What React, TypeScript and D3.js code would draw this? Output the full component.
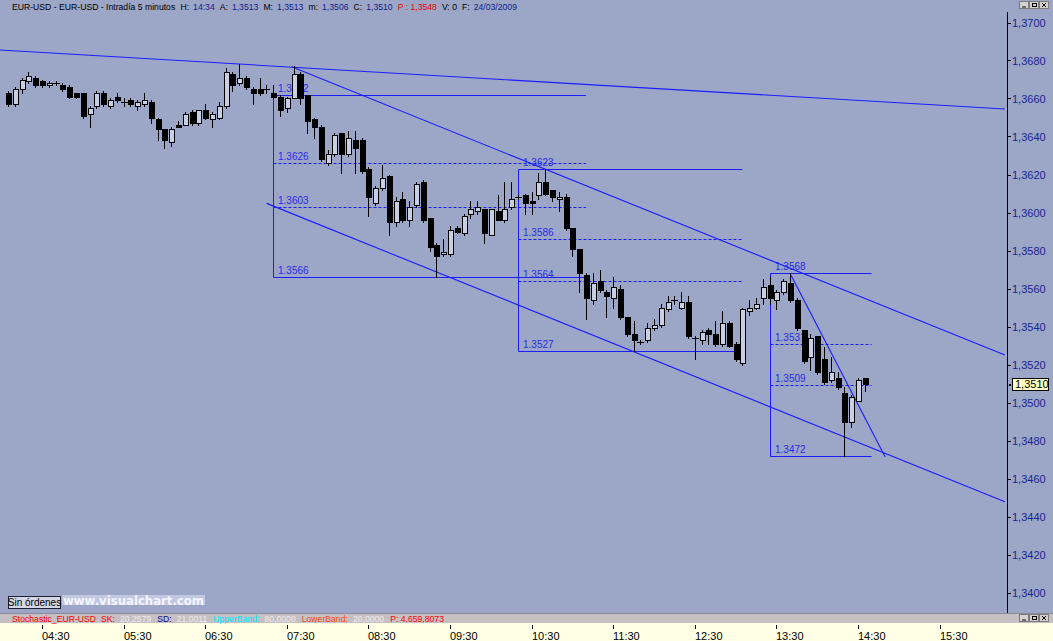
import React, { useLayoutEffect, useRef, useState } from "react";
import * as d3 from "d3";

// ---- data (EUR-USD, 5-minute bars, first bar 04:05, last bar 14:35) ----
const opens = [
  1.3663, 1.3657, 1.3665, 1.3669, 1.3671, 1.3669, 1.3667, 1.3668, 1.3667, 1.3666,
  1.3663, 1.3663, 1.3652, 1.3656, 1.3663, 1.3656, 1.3661, 1.3658, 1.3659, 1.3656,
  1.3657, 1.3658, 1.3649, 1.3644, 1.3637, 1.3646, 1.3646, 1.3653, 1.3647, 1.3654,
  1.3649, 1.3650, 1.3656, 1.3673, 1.3668, 1.3671, 1.3665, 1.3665, 1.3665, 1.3663,
  1.3661, 1.3655, 1.3660, 1.3673, 1.3662, 1.3649, 1.3645, 1.3626, 1.3631, 1.3642,
  1.3631, 1.3638, 1.3638, 1.3623, 1.3605, 1.3613, 1.3619, 1.3595, 1.3607, 1.3596,
  1.3604, 1.3616, 1.3597, 1.3583, 1.3578, 1.3578, 1.3592, 1.3589, 1.3599, 1.3601,
  1.3602, 1.3588, 1.3601, 1.3596, 1.3603, 1.3608, 1.3609, 1.3606, 1.3609, 1.3616,
  1.3612, 1.3607, 1.3608, 1.3592, 1.3581, 1.3567, 1.3554, 1.3564, 1.3558, 1.3555,
  1.3560, 1.3545, 1.3536, 1.3532, 1.3533, 1.3539, 1.3541, 1.3549, 1.3554, 1.3550,
  1.3553, 1.3534, 1.3533, 1.3538, 1.3536, 1.3531, 1.3542, 1.3531, 1.3521, 1.3548,
  1.3550, 1.3555, 1.3562, 1.3554, 1.3558, 1.3563, 1.3554, 1.3538, 1.3524, 1.3535,
  1.3523, 1.3512, 1.3513, 1.3505, 1.3490, 1.3501, 1.3513,
];
const highs = [
  1.3664, 1.3666, 1.3671, 1.3674, 1.3672, 1.3670, 1.3669, 1.3669, 1.3668, 1.3667,
  1.3663, 1.3663, 1.3656, 1.3664, 1.3664, 1.3660, 1.3663, 1.3660, 1.3660, 1.3659,
  1.3663, 1.3659, 1.3650, 1.3644, 1.3645, 1.3648, 1.3653, 1.3654, 1.3654, 1.3657,
  1.3653, 1.3658, 1.3676, 1.3674, 1.3678, 1.3672, 1.3666, 1.3671, 1.3667, 1.3667,
  1.3662, 1.3661, 1.3677, 1.3674, 1.3662, 1.3650, 1.3646, 1.3633, 1.3642, 1.3642,
  1.3643, 1.3643, 1.3639, 1.3624, 1.3614, 1.3625, 1.3620, 1.3608, 1.3611, 1.3606,
  1.3616, 1.3617, 1.3597, 1.3584, 1.3586, 1.3593, 1.3593, 1.3599, 1.3606, 1.3606,
  1.3602, 1.3602, 1.3609, 1.3616, 1.3616, 1.3609, 1.3610, 1.3611, 1.3621, 1.3623,
  1.3612, 1.3611, 1.3610, 1.3592, 1.3581, 1.3568, 1.3568, 1.3570, 1.3559, 1.3566,
  1.3562, 1.3545, 1.3543, 1.3533, 1.3542, 1.3544, 1.3552, 1.3556, 1.3556, 1.3558,
  1.3556, 1.3535, 1.3538, 1.3539, 1.3543, 1.3548, 1.3543, 1.3532, 1.3550, 1.3554,
  1.3555, 1.3565, 1.3566, 1.3559, 1.3565, 1.3568, 1.3555, 1.3538, 1.3536, 1.3535,
  1.3529, 1.3524, 1.3516, 1.3508, 1.3504, 1.3513, 1.3513,
];
const lows = [
  1.3656, 1.3656, 1.3663, 1.3668, 1.3666, 1.3666, 1.3666, 1.3667, 1.3664, 1.3660,
  1.3660, 1.3650, 1.3645, 1.3655, 1.3656, 1.3655, 1.3658, 1.3656, 1.3656, 1.3654,
  1.3656, 1.3647, 1.3638, 1.3634, 1.3635, 1.3645, 1.3646, 1.3646, 1.3646, 1.3649,
  1.3645, 1.3649, 1.3655, 1.3664, 1.3667, 1.3665, 1.3657, 1.3662, 1.3663, 1.3660,
  1.3651, 1.3653, 1.3660, 1.3657, 1.3642, 1.3639, 1.3627, 1.3625, 1.3630, 1.3621,
  1.3630, 1.3621, 1.3621, 1.3598, 1.3604, 1.3612, 1.3588, 1.3593, 1.3595, 1.3593,
  1.3603, 1.3595, 1.3580, 1.3566, 1.3577, 1.3577, 1.3589, 1.3588, 1.3597, 1.3599,
  1.3584, 1.3588, 1.3596, 1.3595, 1.3602, 1.3607, 1.3599, 1.3599, 1.3607, 1.3609,
  1.3606, 1.3601, 1.3591, 1.3577, 1.3558, 1.3544, 1.3552, 1.3558, 1.3545, 1.3550,
  1.3544, 1.3535, 1.3527, 1.3531, 1.3532, 1.3538, 1.3540, 1.3548, 1.3552, 1.3549,
  1.3534, 1.3523, 1.3531, 1.3531, 1.3530, 1.3530, 1.3529, 1.3522, 1.3520, 1.3546,
  1.3549, 1.3552, 1.3552, 1.3549, 1.3557, 1.3553, 1.3538, 1.3521, 1.3517, 1.3515,
  1.3510, 1.3511, 1.3507, 1.3472, 1.3487, 1.3501, 1.3506,
];
const closes = [
  1.3657, 1.3665, 1.3670, 1.3672, 1.3667, 1.3667, 1.3668, 1.3668, 1.3665, 1.3661,
  1.3661, 1.3651, 1.3655, 1.3663, 1.3657, 1.3659, 1.3659, 1.3658, 1.3657, 1.3658,
  1.3659, 1.3650, 1.3644, 1.3638, 1.3644, 1.3645, 1.3652, 1.3647, 1.3654, 1.3650,
  1.3652, 1.3656, 1.3674, 1.3667, 1.3671, 1.3666, 1.3663, 1.3663, 1.3665, 1.3661,
  1.3654, 1.3660, 1.3673, 1.3660, 1.3648, 1.3645, 1.3628, 1.3631, 1.3641, 1.3631,
  1.3639, 1.3634, 1.3622, 1.3608, 1.3613, 1.3618, 1.3595, 1.3606, 1.3596, 1.3603,
  1.3615, 1.3596, 1.3582, 1.3577, 1.3579, 1.3591, 1.3590, 1.3598, 1.3602, 1.3603,
  1.3589, 1.3602, 1.3596, 1.3602, 1.3607, 1.3608, 1.3605, 1.3605, 1.3616, 1.3610,
  1.3608, 1.3608, 1.3592, 1.3581, 1.3568, 1.3555, 1.3563, 1.3559, 1.3556, 1.3561,
  1.3545, 1.3536, 1.3533, 1.3532, 1.3539, 1.3541, 1.3550, 1.3553, 1.3554, 1.3553,
  1.3535, 1.3534, 1.3537, 1.3536, 1.3531, 1.3542, 1.3530, 1.3523, 1.3549, 1.3550,
  1.3552, 1.3561, 1.3555, 1.3558, 1.3564, 1.3554, 1.3539, 1.3522, 1.3534, 1.3516,
  1.3511, 1.3516, 1.3508, 1.3490, 1.3503, 1.3512, 1.3510,
];

const timeTickLabels = ["04:30", "05:30", "06:30", "07:30", "08:30", "09:30", "10:30", "11:30", "12:30", "13:30", "14:30", "15:30"];
const timeTickBars = [5, 17, 29, 41, 53, 65, 77, 89, 101, 113, 125, 137];

const priceTicks = [1.37, 1.368, 1.366, 1.364, 1.362, 1.36, 1.358, 1.356, 1.354, 1.352, 1.35, 1.348, 1.346, 1.344, 1.342, 1.34];

// trend lines: [bar index, price] endpoints
const trendLines = [
  { from: [-1.18, 1.36855], to: [146.6, 1.36545] },
  { from: [41.72, 1.36767], to: [146.6, 1.3525] },
  { from: [38.04, 1.36048], to: [146.6, 1.34478] },
  { from: [115, 1.3568], to: [129, 1.34713] },
];

// Fibonacci retracement boxes
const fibStart = [39, 75, 112];
const fibEnd = [85, 108, 127];
const fibHigh = [1.3662, 1.3623, 1.3568];
const fibLow = [1.3566, 1.3527, 1.3472];
const fibLevels = [[1.3626, 1.3603], [1.3586, 1.3564], [1.3531, 1.3509]];

const lastPrice = 1.351;

// header / indicator text segments: [text, colour, gap before]
const headerSegs: [string, string, number][] = [
  ["EUR-USD - EUR-USD - Intradía 5 minutos", "#000", 0],
  ["H:", "#000", 5],
  ["14:34", "#14208c", 4],
  ["A:", "#000", 5],
  ["1,3513", "#14208c", 4],
  ["M:", "#000", 5],
  ["1,3513", "#14208c", 4],
  ["m:", "#000", 5],
  ["1,3506", "#14208c", 4],
  ["C:", "#000", 5],
  ["1,3510", "#14208c", 4],
  ["P : 1,3548", "#ee0000", 5],
  ["V: 0", "#000", 5],
  ["F:", "#000", 5],
  ["24/03/2009", "#14208c", 4],
];
const stochSegs: [string, string, number][] = [
  ["Stochastic_EUR-USD", "#ff0000", 0],
  ["SK:", "#ff0000", 5],
  ["20,2579", "#ececec", 5],
  ["SD:", "#0a0a8a", 6],
  ["21,0011", "#ececec", 5],
  ["UpperBand:", "#00e8ff", 6],
  ["80,0000", "#ececec", 5],
  ["LowerBand:", "#ff4a1a", 6],
  ["20,0000", "#ececec", 5],
  ["P: 4.659,8073", "#ff0000", 6],
];

const BG = "#9ca6c6";
const BLUE = "#1c1cff";
const LBL = "#2a2ae6";
const WHITE_BODY = "#c9cfe2";
const FONT = "'Liberation Sans', Arial, sans-serif";

// lays out coloured text runs one after another; shrinks the font so the row fits the width
function SegText({ x, y, segs, fontSize, width }: { x: number; y: number; segs: [string, string, number][]; fontSize: number; width: number }) {
  const refs = useRef<(SVGTextElement | null)[]>([]);
  const [layout, setLayout] = useState<{ fs: number; xs: number[] } | null>(null);
  useLayoutEffect(() => {
    const ws = refs.current.map((el) => (el ? el.getComputedTextLength() : 0));
    const gaps = d3.sum(segs, (s) => s[2]);
    const total = d3.sum(ws);
    const k = total > 0 ? Math.min(1, (width - gaps) / total) : 1;
    const extra = total > 0 ? Math.max(0, width - gaps - total * k) / Math.max(1, segs.length - 1) : 0;
    let acc = x;
    const xs: number[] = [];
    ws.forEach((w, i) => {
      if (i > 0) acc += segs[i][2] + extra;
      xs.push(acc);
      acc += w * k;
    });
    setLayout({ fs: fontSize * k, xs });
  }, []);
  return (
    <g>
      {segs.map(([t, c], i) => (
        <text
          key={i}
          ref={(el) => {
            refs.current[i] = el;
          }}
          x={layout ? layout.xs[i] : x}
          y={y}
          fontSize={layout ? layout.fs : fontSize}
          fill={c}
          opacity={layout ? 1 : 0}
        >
          {t}
        </text>
      ))}
    </g>
  );
}

export default function App() {
  const x = d3.scaleLinear().domain([0, 126]).range([8, 864.8]);
  const y = d3.scaleLinear().domain([1.34, 1.37]).range([592.5, 22.5]);
  const fmtAxis = (p: number) => d3.format(".4f")(p).replace(".", ",");
  const fmtLbl = d3.format(".4f");
  const px = (v: number) => Math.round(v) + 0.5;

  const candles = d3.range(opens.length).map((i) => ({ i, o: opens[i], h: highs[i], l: lows[i], c: closes[i] }));

  const winButtons = (bx: number, by: number) => (
    <g>
      {[0, 1, 2].map((k) => (
        <rect key={k} x={bx + k * 10 + 0.5} y={by + 0.5} width={9} height={7} fill="#d6d3ce" stroke="#7a7a7a" strokeWidth={1} />
      ))}
      <line x1={bx + 3} x2={bx + 7} y1={by + 6} y2={by + 6} stroke="#000" />
      <rect x={bx + 13.5} y={by + 2.5} width={4} height={3} fill="none" stroke="#000" />
      <path d={`M${bx + 23},${by + 2}L${bx + 27},${by + 6}M${bx + 27},${by + 2}L${bx + 23},${by + 6}`} stroke="#000" />
    </g>
  );

  return (
    <svg width={1053} height={641} style={{ position: "fixed", left: 0, top: 0, display: "block" }} fontFamily={FONT}>
      <defs>
        <clipPath id="plotClip">
          <rect x={0} y={12} width={1007} height={601} />
        </clipPath>
      </defs>

      {/* backgrounds */}
      <rect x={0} y={0} width={1053} height={613} fill={BG} />
      <rect x={0} y={613} width={1053} height={10} fill="#c6bfc3" />
      <line x1={0} x2={1053} y1={613.5} y2={613.5} stroke="#8a8a9a" />
      <rect x={0} y={623} width={1053} height={18} fill="#ffffe6" />

      {/* header */}
      <SegText x={12} y={10} segs={headerSegs} fontSize={10} width={505} />
      {winButtons(1019, 1)}

      <g clipPath="url(#plotClip)">
        {/* Fibonacci boxes */}
        {fibStart.map((s, k) => {
          const x0 = px(x(s));
          const x1 = x(fibEnd[k]);
          const yh = px(y(fibHigh[k]));
          const yl = px(y(fibLow[k]));
          return (
            <g key={k}>
              <line x1={x0} x2={x0} y1={yh} y2={yl} stroke={BLUE} strokeWidth={1} />
              <line x1={x0} x2={x1} y1={yh} y2={yh} stroke={BLUE} strokeWidth={1} />
              <line x1={x0} x2={x1} y1={yl} y2={yl} stroke={BLUE} strokeWidth={1} />
              {fibLevels[k].map((lv, j) => (
                <line key={j} x1={x0} x2={x1} y1={px(y(lv))} y2={px(y(lv))} stroke={BLUE} strokeDasharray="3,2" strokeWidth={1} />
              ))}
              {[fibHigh[k], ...fibLevels[k], fibLow[k]].map((lv, j) => (
                <text key={"t" + j} x={x0 + 4.5} y={Math.round(y(lv)) - 3} fontSize={10} fill={LBL}>
                  {fmtLbl(lv)}
                </text>
              ))}
            </g>
          );
        })}

        {/* trend lines */}
        {trendLines.map((t, k) => (
          <line key={k} x1={x(t.from[0])} y1={y(t.from[1])} x2={x(t.to[0])} y2={y(t.to[1])} stroke={BLUE} strokeWidth={1.1} />
        ))}

        {/* candles */}
        <g shapeRendering="crispEdges">
          {candles.map((d) => {
            const n = Math.round(x(d.i));
            const yH = Math.round(y(d.h));
            const yL = Math.round(y(d.l));
            const yO = Math.round(y(d.o));
            const yC = Math.round(y(d.c));
            const top = Math.min(yO, yC);
            const bot = Math.max(yO, yC);
            const up = d.c > d.o;
            const doji = d.c === d.o;
            return (
              <g key={d.i}>
                <rect x={n} y={yH} width={1} height={Math.max(yL - yH + 1, 1)} fill="#000" />
                {doji ? (
                  <rect x={n - 3} y={yC} width={7} height={1} fill="#000" />
                ) : (
                  <>
                    <rect x={n - 2} y={top} width={6} height={bot - top + 1} fill="#000" />
                    {up && bot - top >= 2 && <rect x={n - 1} y={top + 1} width={4} height={bot - top - 1} fill={WHITE_BODY} />}
                  </>
                )}
              </g>
            );
          })}
        </g>
      </g>

      {/* price axis */}
      <line x1={1007.5} x2={1007.5} y1={12} y2={613} stroke="#000" />
      {priceTicks.map((p) => (
        <g key={p}>
          <line x1={1008} x2={1011} y1={px(y(p))} y2={px(y(p))} stroke="#000" />
          <text x={1012} y={y(p) + 4} fontSize={11} fill="#1a2590">
            {fmtAxis(p)}
          </text>
        </g>
      ))}
      {/* last price marker */}
      <rect x={1009} y={Math.round(y(lastPrice))} width={2} height={2} fill="#000" />
      <rect x={1012.5} y={Math.round(y(lastPrice)) - 5.5} width={36} height={12} fill="#ffffc4" stroke="#000" />
      <text x={1015} y={Math.round(y(lastPrice)) + 4} fontSize={11} fill="#000">
        {fmtAxis(lastPrice)}
      </text>

      {/* footer controls */}
      <rect x={8.5} y={596.5} width={52} height={12} fill="#d4d6e6" stroke="#202030" />
      <text x={34.5} y={606} fontSize={10} textAnchor="middle" fill="#000">Sin órdenes</text>
      <rect x={62} y={595} width={143} height={10} fill="#c3c8e2" />
      <text x={63} y={604.5} fontSize={12} fontWeight="bold" fontFamily="'DejaVu Sans', Verdana, sans-serif" fill="#f4f4ff" textLength={141} lengthAdjust="spacingAndGlyphs">
        www.visualchart.com
      </text>

      {/* stochastic info bar */}
      <SegText x={12} y={621.5} segs={stochSegs} fontSize={10} width={432} />
      {winButtons(1019, 614)}

      {/* time axis */}
      {timeTickBars.map((b, k) => {
        const n = Math.round(x(b));
        return (
          <g key={b}>
            <rect x={n} y={625} width={1} height={4} fill="#000" />
            <text x={n} y={639.5} fontSize={11} fill="#000">
              {timeTickLabels[k]}
            </text>
          </g>
        );
      })}
    </svg>
  );
}
